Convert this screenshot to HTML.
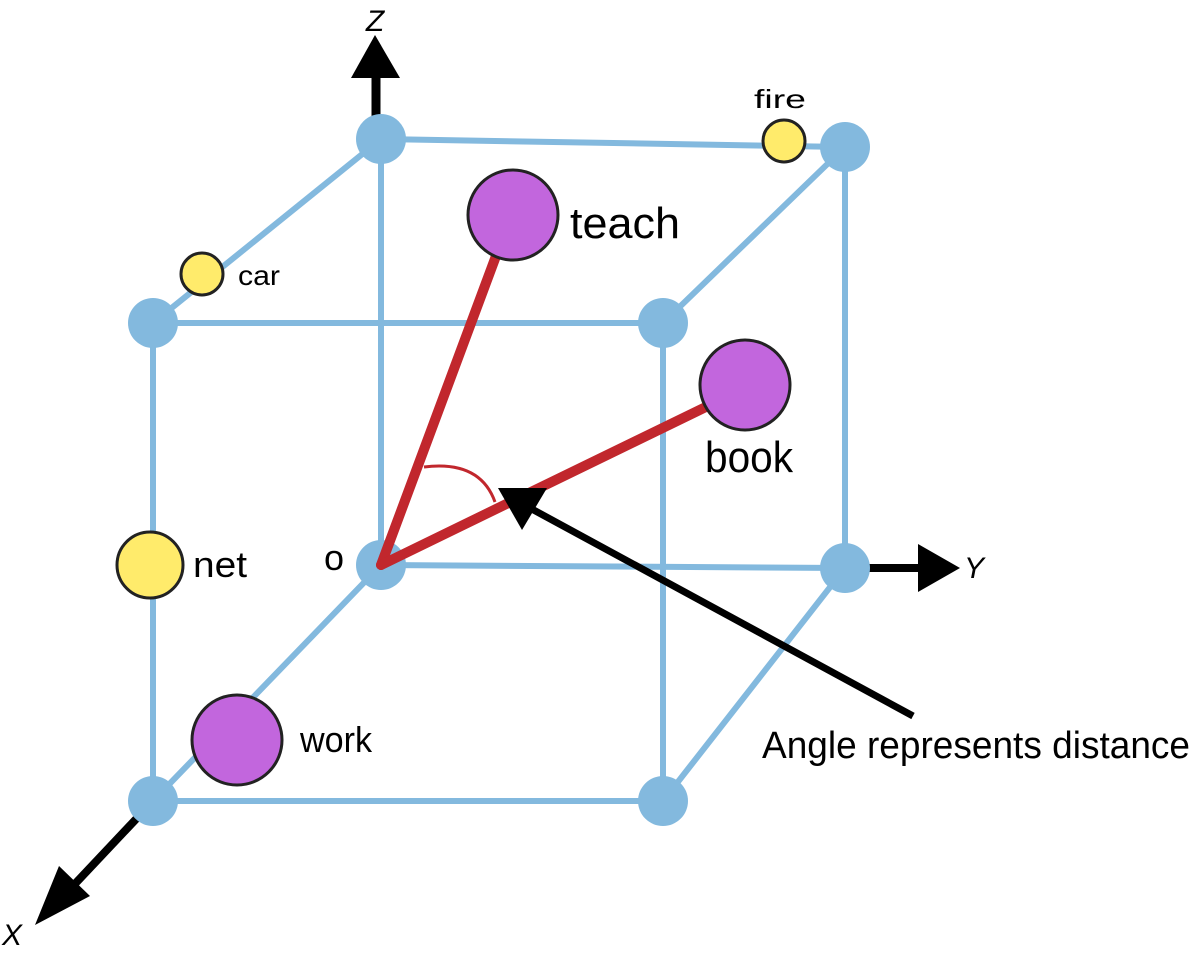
<!DOCTYPE html>
<html><head><meta charset="utf-8">
<style>
html,body{margin:0;padding:0;background:#fff;}
svg{display:block;}
text{font-family:"Liberation Sans",sans-serif;fill:#000;}
</style></head>
<body>
<svg id="chart" width="1202" height="954" viewBox="0 0 1202 954" xmlns="http://www.w3.org/2000/svg">
  <g id="edges"></g>
  <g id="axes">
    <line x1="376" y1="118" x2="376" y2="76" stroke="#000" stroke-width="9"/>
    <polygon points="351,78 400,78 375,35" fill="#000"/>
    <text x="375" y="31" font-size="30" font-style="italic" text-anchor="middle">Z</text>
    <line x1="866" y1="568" x2="925" y2="568" stroke="#000" stroke-width="8"/>
    <polygon points="918,544 918,592 960,568" fill="#000"/>
    <text x="964" y="578" font-size="30" font-style="italic">Y</text>
    <line x1="138" y1="817" x2="72" y2="887" stroke="#000" stroke-width="8"/>
    <polygon points="59,866 90,896 35,925" fill="#000"/>
    <text x="2" y="945" font-size="30" font-style="italic">X</text>
  </g>
  <g id="vertices"></g>
  <g id="vectors">
    <line x1="381" y1="565" x2="496" y2="256" stroke="#c1272d" stroke-width="10" stroke-linecap="round"/>
    <line x1="381" y1="565" x2="712" y2="404" stroke="#c1272d" stroke-width="10" stroke-linecap="round"/>
    <path d="M424,467 Q480,460 495,502" fill="none" stroke="#c1272d" stroke-width="3"/>
  </g>
  <g id="words"></g>
  <g id="annotation">
    <line x1="913" y1="716" x2="530" y2="508" stroke="#000" stroke-width="7"/>
    <polygon points="498,488 547,488 522,530" fill="#000"/>
    <text x="762" y="758" font-size="38" textLength="428" lengthAdjust="spacingAndGlyphs">Angle represents distance</text>
    <text x="324" y="570" font-size="36">o</text>
  </g>
</svg>
<script>
const vertexNames = ["origin","top-back-left","top-back-right","y-end","top-front-left","top-front-right","bottom-front-left","bottom-front-right"];
const vertexX = [381, 381, 845, 845, 153, 663, 153, 663];
const vertexY = [565, 139, 147, 568, 323, 323, 801, 801];
const edgeFrom = [0,1,2,0,1,2,4,4,5,6,0,3];
const edgeTo   = [1,2,3,3,4,5,5,6,7,7,6,7];
const wordNames = ["teach","book","work","net","car","fire"];
const wordX = [513, 745, 237, 150, 202, 784];
const wordY = [215, 385, 740, 565, 274, 141];
const wordR = [45, 45, 45, 33, 21, 21];
const wordKind = ["purple","purple","purple","yellow","yellow","yellow"];
const labelX = [570, 705, 300, 193, 238, 754];
const labelY = [238, 472, 752, 577, 285, 108];
const labelSize = [44, 44, 36, 36, 28, 26];

const NS = "http://www.w3.org/2000/svg";
const edgesG = document.getElementById("edges");
for (let i = 0; i < edgeFrom.length; i++) {
  const l = document.createElementNS(NS, "line");
  l.setAttribute("x1", vertexX[edgeFrom[i]]); l.setAttribute("y1", vertexY[edgeFrom[i]]);
  l.setAttribute("x2", vertexX[edgeTo[i]]); l.setAttribute("y2", vertexY[edgeTo[i]]);
  l.setAttribute("stroke", "#83b9de"); l.setAttribute("stroke-width", "6");
  
  
  edgesG.appendChild(l);
}
const vertG = document.getElementById("vertices");
for (let i = 0; i < vertexX.length; i++) {
  const c = document.createElementNS(NS, "circle");
  c.setAttribute("cx", vertexX[i]); c.setAttribute("cy", vertexY[i]); c.setAttribute("r", 25);
  c.setAttribute("fill", "#83b9de");
  
  
  vertG.appendChild(c);
}
const wordsG = document.getElementById("words");
for (let i = 0; i < wordNames.length; i++) {
  const c = document.createElementNS(NS, "circle");
  c.setAttribute("cx", wordX[i]); c.setAttribute("cy", wordY[i]); c.setAttribute("r", wordR[i]);
  c.setAttribute("fill", wordKind[i] === "purple" ? "#c266dd" : "#ffeb6b");
  c.setAttribute("stroke", "#222"); c.setAttribute("stroke-width", "3");
  
  
  wordsG.appendChild(c);
  const t = document.createElementNS(NS, "text");
  t.setAttribute("x", labelX[i]); t.setAttribute("y", labelY[i]);
  t.setAttribute("font-size", labelSize[i]);
  t.setAttribute("textLength", Math.round(wordNames[i].length * labelSize[i] * 0.5));
  t.setAttribute("lengthAdjust", "spacingAndGlyphs");
  t.textContent = wordNames[i];
  
  
  wordsG.appendChild(t);
}
</script>
</body></html>
